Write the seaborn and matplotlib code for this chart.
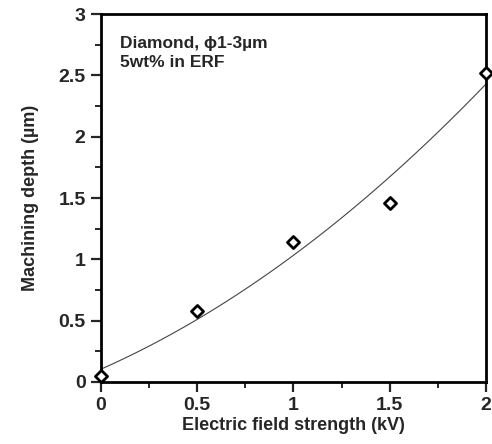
import matplotlib
matplotlib.use('Agg')
import matplotlib.pyplot as plt
import seaborn as sns
import pandas as pd
from matplotlib.ticker import MultipleLocator

# data
field_kv = [0.0, 0.5, 1.0, 1.5, 2.0]
depth_um = [0.05, 0.58, 1.14, 1.46, 2.52]
x_ticks = [0, 0.5, 1, 1.5, 2]
x_tick_labels = ['0', '0.5', '1', '1.5', '2']
y_ticks = [0, 0.5, 1, 1.5, 2, 2.5, 3]
y_tick_labels = ['0', '0.5', '1', '1.5', '2', '2.5', '3']

df = pd.DataFrame({'field': field_kv, 'depth': depth_um})

sns.set_style('white')
plt.rcParams['font.family'] = ['Liberation Sans', 'DejaVu Sans']

fig = plt.figure(figsize=(4.92, 4.44), dpi=100)
ax = fig.add_axes([0.205, 0.140, 0.783, 0.828])

# quadratic trend line through the points
sns.regplot(data=df, x='field', y='depth', order=2, ci=None, scatter=False,
            truncate=True, ax=ax, line_kws={'color': '#444444', 'lw': 0.8})
sns.scatterplot(data=df, x='field', y='depth', marker='D', s=38,
                facecolor='white', edgecolor='black', linewidth=2.0,
                ax=ax, clip_on=False, zorder=5)

ax.set_xlim(0, 2)
ax.set_ylim(0, 3)
ax.set_xticks(x_ticks)
ax.set_xticklabels(x_tick_labels)
ax.set_yticks(y_ticks)
ax.set_yticklabels(y_tick_labels)
ax.xaxis.set_minor_locator(MultipleLocator(0.25))
ax.yaxis.set_minor_locator(MultipleLocator(0.25))
ax.tick_params(which='major', direction='out', length=7, width=1.6,
               labelsize=14, bottom=True, left=True, pad=4)
ax.tick_params(which='minor', direction='out', length=4, width=1.4,
               bottom=True, left=True)
for lbl in ax.get_xticklabels() + ax.get_yticklabels():
    lbl.set_fontweight('bold')
for sp in ax.spines.values():
    sp.set_visible(True)
    sp.set_color('black')
    sp.set_linewidth(2.0)

ax.set_xlabel('Electric field strength (kV)', fontsize=13, fontweight='bold', labelpad=2)
ax.set_ylabel('Machining depth (\u00b5m)', fontsize=13, fontweight='bold', labelpad=14)

ax.text(0.05, 0.942, 'Diamond, \u03d51-3\u00b5m\n5wt% in ERF', transform=ax.transAxes,
        ha='left', va='top', fontsize=12.5, fontweight='bold', linespacing=1.35)

fig.savefig('out.png', dpi=100)
